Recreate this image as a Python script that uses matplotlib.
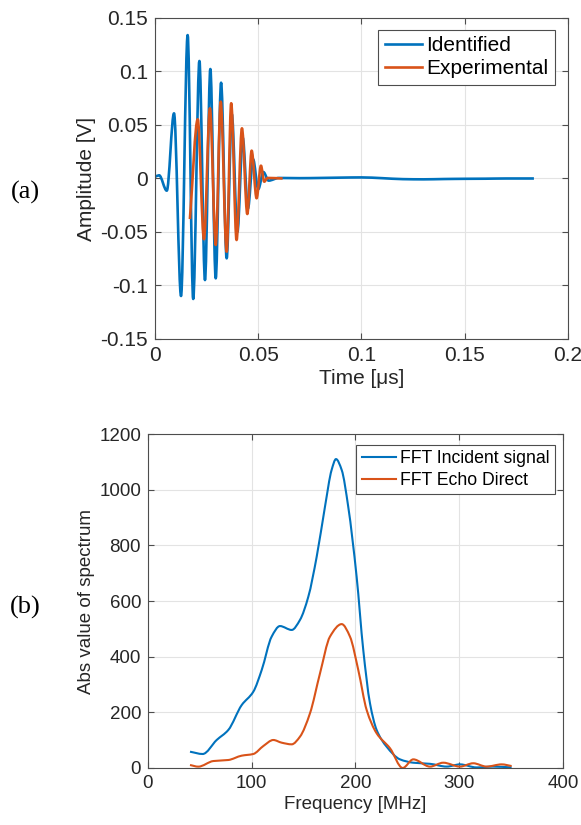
import matplotlib
matplotlib.use("Agg")
import matplotlib.pyplot as plt
import numpy as np
from matplotlib.path import Path
from matplotlib.patches import PathPatch
from matplotlib.lines import Line2D

# Colours (MATLAB default order)
blue = '#0072BD'
orange = '#D95319'

# ---- (a) time signals ----
identified_t = [0.000, 0.0020, 0.0057, 0.0092, 0.0126, 0.0158, 0.0185, 0.0215, 0.0242,
                0.0268, 0.0294, 0.0320, 0.0347, 0.0372, 0.0399, 0.0425, 0.0450, 0.0475,
                0.0500, 0.0525, 0.0550, 0.0600, 0.0700, 0.0800, 0.0900, 0.1000, 0.1100,
                0.1200, 0.1300, 0.1400, 0.1500, 0.1600, 0.1700, 0.1835]
identified_v = [0.0015, 0.0030, -0.0114, 0.0609, -0.1098, 0.1340, -0.1126, 0.1098, -0.0949,
                0.1023, -0.0933, 0.0895, -0.0746, 0.0600, -0.0500, 0.0380, -0.0280, 0.0180,
                -0.0100, 0.0060, -0.0020, 0.0005, 0.0003, 0.0005, 0.0008, 0.0010, 0.0003,
                -0.0006, -0.0008, -0.0005, -0.0003, -0.0002, 0.0, 0.0]

experimental_t = [0.0169, 0.0207, 0.0237, 0.0266, 0.0294, 0.0318, 0.0347, 0.0369, 0.0395,
                  0.0421, 0.0447, 0.0468, 0.0492, 0.0513, 0.0529, 0.0545, 0.0618]
experimental_v = [-0.0379, 0.0553, -0.0568, 0.0656, -0.0621, 0.0718, -0.0684, 0.0703, -0.0575,
                  0.0469, -0.0332, 0.0260, -0.0185, 0.0120, -0.0030, 0.0005, 0.0]

# ---- (b) spectra ----
incident_f = [40.5, 52.7, 66.2, 77.4, 90.3, 101.5, 109.6, 119.2, 127.2, 138.5, 146.5, 154.5,
              162.6, 170.6, 177.0, 181.2, 186.7, 193.0, 201.1, 207.5, 214.0,
              220.4, 230.0, 242.9, 255.7, 271.8, 287.9, 300.7, 316.7, 332.7, 350.5]
incident_v = [58.6, 50.3, 100.6, 136.5, 226, 274, 352, 472, 510, 496, 532, 615,
              759, 939, 1071, 1110, 1071, 939, 687, 424, 232,
              136.5, 76.6, 31, 19, 15, 5, 13, 2, 5, 2]

echo_f = [40.5, 48.5, 63.0, 77.4, 90.3, 101.5, 111.2, 120.8, 128.8, 138.5, 146.5, 156.1,
          165.8, 175.4, 186.7, 194.7, 202.7, 210.8, 220.4, 233.3,
          245.5, 255.7, 271.8, 284.6, 300.7, 313.5, 326.3, 340.9, 350.5]
echo_v = [10.8, 4.8, 25, 28.7, 44.3, 50.3, 79, 100.6, 91, 85, 112.6, 196,
          340, 472, 517, 472, 352, 208, 124.6, 70.8,
          0, 31, 5, 19, 5, 17, 5, 13, 7]

plt.rcParams['font.family'] = ['Liberation Sans', 'DejaVu Sans']
axis_col = '#4d4d4d'
text_col = '#262626'


def smooth_line(ax, x, y, color, lw):
    # monotone cubic (pchip-like) curve through the points, drawn as a bezier path
    x = np.asarray(x, float)
    y = np.asarray(y, float)
    h = np.diff(x)
    d = np.diff(y) / h
    m = np.zeros_like(y)
    for i in range(1, len(y) - 1):
        if d[i - 1] * d[i] > 0:
            w1 = 2 * h[i] + h[i - 1]
            w2 = h[i] + 2 * h[i - 1]
            m[i] = (w1 + w2) / (w1 / d[i - 1] + w2 / d[i])
    m[0] = d[0]
    m[-1] = d[-1]
    verts = [(x[0], y[0])]
    codes = [Path.MOVETO]
    for i in range(len(h)):
        verts += [(x[i] + h[i] / 3, y[i] + m[i] * h[i] / 3),
                  (x[i + 1] - h[i] / 3, y[i + 1] - m[i + 1] * h[i] / 3),
                  (x[i + 1], y[i + 1])]
        codes += [Path.CURVE4] * 3
    patch = PathPatch(Path(verts, codes), fill=False, edgecolor=color, lw=lw,
                      joinstyle='round', capstyle='butt')
    ax.add_patch(patch)
    return Line2D([], [], color=color, lw=lw)


def style_axes(ax, fs):
    ax.grid(True, color='#e3e3e3', linewidth=0.8)
    ax.set_axisbelow(True)
    for sp in ax.spines.values():
        sp.set_color(axis_col)
        sp.set_linewidth(0.8)
    ax.tick_params(direction='in', top=True, right=True, length=4, width=0.8,
                   colors=axis_col, labelcolor=text_col, labelsize=fs, pad=5)


fig = plt.figure(figsize=(5.81, 8.25), dpi=100)

ax1 = fig.add_axes([0.2668, 0.5891, 0.7108, 0.3891])
h1 = smooth_line(ax1, identified_t, identified_v, blue, 1.9)
h2 = smooth_line(ax1, experimental_t, experimental_v, orange, 1.9)
ax1.set_xlim(0, 0.2)
ax1.set_ylim(-0.15, 0.15)
ax1.set_xticks([0, 0.05, 0.1, 0.15, 0.2])
ax1.set_xticklabels(['0', '0.05', '0.1', '0.15', '0.2'])
ax1.set_yticks([-0.15, -0.1, -0.05, 0, 0.05, 0.1, 0.15])
ax1.set_yticklabels(['-0.15', '-0.1', '-0.05', '0', '0.05', '0.1', '0.15'])
style_axes(ax1, 15)
ax1.set_xlabel('Time [μs]', fontsize=15, color=text_col, labelpad=3)
ax1.set_ylabel('Amplitude [V]', fontsize=15, color=text_col, labelpad=3)
leg1 = ax1.legend([h1, h2], ['Identified', 'Experimental'], loc='upper right',
                  bbox_to_anchor=(0.9685, 0.9626), borderaxespad=0,
                  fontsize=15, fancybox=False, framealpha=1, edgecolor=axis_col,
                  handlelength=1.8, handletextpad=0.22, labelspacing=0.2, borderpad=0.3)
leg1.get_frame().set_linewidth(0.8)

ax2 = fig.add_axes([0.2547, 0.0691, 0.7143, 0.4048])
h3 = smooth_line(ax2, incident_f, incident_v, blue, 1.5)
h4 = smooth_line(ax2, echo_f, echo_v, orange, 1.5)
ax2.set_xlim(0, 400)
ax2.set_ylim(0, 1200)
ax2.set_xticks([0, 100, 200, 300, 400])
ax2.set_yticks([0, 200, 400, 600, 800, 1000, 1200])
style_axes(ax2, 13.5)
ax2.set_xlabel('Frequency [MHz]', fontsize=13.5, color=text_col, labelpad=3)
ax2.set_ylabel('Abs value of spectrum', fontsize=13.5, color=text_col, labelpad=3)
leg2 = ax2.legend([h3, h4], ['FFT Incident signal', 'FFT Echo Direct'], loc='upper right',
                  bbox_to_anchor=(0.981, 0.967), borderaxespad=0,
                  fontsize=12.7, fancybox=False, framealpha=1, edgecolor=axis_col,
                  handlelength=1.95, handletextpad=0.25, labelspacing=0.25, borderpad=0.3)
leg2.get_frame().set_linewidth(0.8)

fig.text(0.043, 0.767, '(a)', family='Liberation Serif', fontsize=19, ha='center', va='center')
fig.text(0.043, 0.264, '(b)', family='Liberation Serif', fontsize=19, ha='center', va='center')

fig.savefig('out.png', dpi=100)
